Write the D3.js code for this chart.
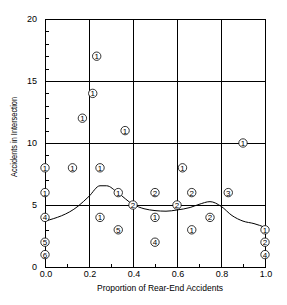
<!DOCTYPE html>
<html><head><meta charset="utf-8">
<script src="https://cdn.jsdelivr.net/npm/d3@7"></script>
<style>
html,body{margin:0;padding:0;background:#fff;}
svg{display:block;font-family:Arial,"Liberation Sans",sans-serif;}
</style></head>
<body><svg id="c" width="287" height="305"></svg>
<script>
// Data
const ptX = [0.235,0.217,0.17,0.364,0.9,0.0,0.125,0.25,0.0,0.333,0.625,0.5,0.667,0.833,0.4,0.6,0.5,0.75,0.667,0.5,0.0,0.0,0.0,0.25,0.333,1.0,1.0,1.0];
const ptY = [17,14,12,11,10,8,8,8,6,6,8,6,6,6,5,5,4,4,3,2,4,2,1,4,3,3,2,1];
const ptN = ["1","1","1","1","1","1","1","1","1","1","1","2","2","3","2","2","1","2","1","4","4","5","6","1","5","1","2","4"];
const curveX = [0,0.15,0.2,0.25,0.28,0.33,0.4,0.45,0.5,0.55,0.6,0.66,0.7,0.75,0.8,0.85,0.9,0.95,1.0];
const curveY = [3.7,4.9,5.7,6.55,6.55,6.0,5.05,4.7,4.55,4.5,4.6,4.8,5.05,5.27,4.9,4.15,3.7,3.5,3.2];
const xMajor = [0,0.2,0.4,0.6,0.8,1.0];
const xMinor = [0.1,0.3,0.5,0.7,0.9];
const yMajor = [0,5,10,15,20];
const yMinor = [1,2,3,4,6,7,8,9,11,12,13,14,16,17,18,19];
const xTitle = "Proportion of Rear-End Accidents";
const yTitle = "Accidents in Intersection";

const svg = d3.select("#c");
const L=45,R=265,T=19,B=267;
const x = d3.scaleLinear().domain([0,1]).range([L,R]);
const y = d3.scaleLinear().domain([0,20]).range([B,T]);

// gridlines
const g = svg.append("g");
g.selectAll(".vg").data(xMajor).join("line")
  .attr("x1",d=>Math.round(x(d))+0.5).attr("x2",d=>Math.round(x(d))+0.5)
  .attr("y1",T).attr("y2",B).attr("stroke","#000").attr("stroke-width",1);
g.selectAll(".hg").data(yMajor).join("line")
  .attr("y1",d=>Math.round(y(d))+0.5).attr("y2",d=>Math.round(y(d))+0.5)
  .attr("x1",L).attr("x2",R+1).attr("stroke","#000").attr("stroke-width",1);

// minor ticks
g.selectAll(".xm").data(xMinor).join("line")
  .attr("x1",d=>Math.round(x(d))+0.5).attr("x2",d=>Math.round(x(d))+0.5)
  .attr("y1",B-3).attr("y2",B).attr("stroke","#000");
g.selectAll(".ym").data(yMinor).join("line")
  .attr("y1",d=>Math.round(y(d))+0.5).attr("y2",d=>Math.round(y(d))+0.5)
  .attr("x1",L).attr("x2",L+4).attr("stroke","#000");

// tick labels
svg.selectAll(".xl").data(xMajor).join("text")
  .attr("x",d=>x(d)+1).attr("y",277).attr("text-anchor","middle")
  .attr("font-size",9).attr("fill","#000").text(d3.format(".1f"));
svg.selectAll(".yl").data(yMajor).join("text")
  .attr("x",37).attr("y",d=>y(d)+3).attr("text-anchor","end")
  .attr("font-size",9).attr("fill","#000").text(d=>d);

// titles
svg.append("text").attr("x",160).attr("y",291).attr("text-anchor","middle")
  .attr("font-size",9).attr("fill","#000").attr("textLength",126).attr("lengthAdjust","spacingAndGlyphs").text(xTitle);
svg.append("text").attr("transform","translate(17,137) rotate(-90)").attr("text-anchor","middle")
  .attr("font-size",8.5).attr("fill","#000").attr("textLength",80).attr("lengthAdjust","spacingAndGlyphs").text(yTitle);

// curve
const pts = curveX.map((d,i)=>[d,curveY[i]]);
svg.append("path").datum(pts)
  .attr("d",d3.line().x(d=>x(d[0])).y(d=>y(d[1])).curve(d3.curveMonotoneX))
  .attr("fill","none").attr("stroke","#000").attr("stroke-width",1);

// circled numbers
const pg = svg.append("g").selectAll("g").data(ptX.map((d,i)=>({x:d,y:ptY[i],n:ptN[i]}))).join("g")
  .attr("transform",d=>`translate(${x(d.x)},${y(d.y)})`);
pg.append("circle").attr("r",4.2).attr("fill","#fff").attr("stroke","#000").attr("stroke-width",0.8);
pg.append("text").attr("y",2.9).attr("text-anchor","middle").attr("font-size",8).attr("fill","#000").text(d=>d.n);
</script></body></html>
